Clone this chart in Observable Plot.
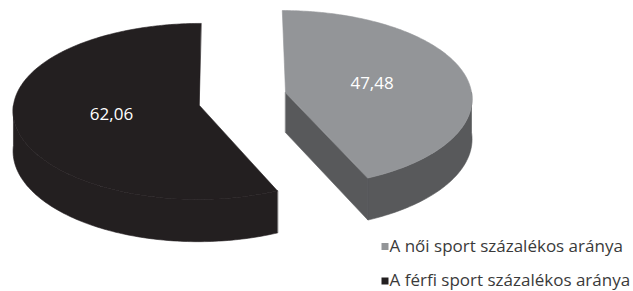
<!DOCTYPE html>
<html>
<head>
<meta charset="utf-8">
<script src="https://cdn.jsdelivr.net/npm/d3@7"></script>
<script src="https://cdn.jsdelivr.net/npm/@observablehq/plot@0.6"></script>
<style>
  html, body { margin: 0; padding: 0; background: #ffffff; }
  #chart svg { display: block; }
</style>
</head>
<body>
<div id="chart"></div>
<script>
// ---- data ----
const categories = ["A női sport százalékos aránya", "A férfi sport százalékos aránya"];
const values = [47.48, 62.06];
const labels = ["47,48", "62,06"];
const topColors = ["#939598", "#231f20"];
const sideColors = ["#58595b", "#231f20"];

// ---- layout (3D pie projection) ----
const W = 633, H = 291;
const c0 = {x: 242, y: 98.5};   // pie centre
const explode = {x: 44, y: 31}; // explode offsets
const rx = 186, ry = 88, bow = 6, depth = 40;
const Vx = 227, persp = 0.056;
const rad = Math.PI / 180;

function P(c, th, r, h) {
  const u = Math.sin(th), v = -Math.cos(th);
  const X = c.x + rx * r * u;
  const s = 1 + persp * v * r;
  return {x: Vx + (X - Vx) * s, y: c.y + ry * r * v + bow * (r * v) ** 2 + h * s};
}
function arc(c, a, b, h) {
  const n = Math.max(2, Math.ceil(Math.abs(b - a) / (rad)));
  const pts = [];
  for (let i = 0; i <= n; i++) pts.push(P(c, a + (b - a) * i / n, 1, h));
  return pts;
}

const total = d3.sum(values);
const points = [];
const labelData = [];
let acc = 0;
values.forEach((v, i) => {
  const a0 = acc / total * 2 * Math.PI;
  acc += v;
  const a1 = acc / total * 2 * Math.PI;
  const mid = (a0 + a1) / 2;
  const c = {x: c0.x + explode.x * Math.sin(mid), y: c0.y - explode.y * Math.cos(mid)};
  const faces = [];
  // outer wall (visible near half: 90..270 deg)
  const lo = Math.max(a0, 90 * rad), hi = Math.min(a1, 270 * rad);
  if (hi > lo) faces.push({color: sideColors[i], pts: [...arc(c, lo, hi, 0), ...arc(c, hi, lo, depth)]});
  // cut faces
  const cut = (a) => [P(c, a, 0, 0), P(c, a, 1, 0), P(c, a, 1, depth), P(c, a, 0, depth)];
  if (-Math.cos(a1 + Math.PI / 2) > 1e-6) faces.push({color: sideColors[i], pts: cut(a1)});
  if (-Math.cos(a0 - Math.PI / 2) > 1e-6) faces.push({color: sideColors[i], pts: cut(a0)});
  // top face
  faces.push({color: topColors[i], pts: [P(c, 0, 0, 0), ...arc(c, a0, a1, 0)]});
  faces.forEach((f, j) => f.pts.forEach(p => points.push({face: `${i}-${j}`, color: f.color, x: p.x, y: p.y})));
  const lp = P(c, mid, 0.48, 0);
  labelData.push({x: lp.x, y: lp.y, text: labels[i]});
});

const legend = categories.map((name, i) => ({
  name, color: topColors[i],
  mx: 384.5, tx: 389, y: [246, 280.5][i]
}));

const chart = Plot.plot({
  width: W, height: H,
  margin: 0,
  x: {domain: [0, W], axis: null},
  y: {domain: [0, H], reverse: true, axis: null},
  color: {type: "identity"},
  style: {background: "#ffffff", fontFamily: "'Open Sans', sans-serif"},
  marks: [
    Plot.line(points, {x: "x", y: "y", z: "face", fill: "color", stroke: "color", strokeWidth: 0.6, curve: "linear-closed"}),
    Plot.text(labelData, {x: "x", y: "y", text: "text", fill: "#ffffff", fontSize: 17}),
    Plot.dot(legend, {x: "mx", y: "y", symbol: "square", r: 3.95, fill: "color", stroke: null}),
    Plot.text(legend, {x: "tx", y: "y", text: "name", textAnchor: "start", fill: "#3a3a3a", fontSize: 17})
  ]
});
document.getElementById("chart").appendChild(chart);
</script>
</body>
</html>
